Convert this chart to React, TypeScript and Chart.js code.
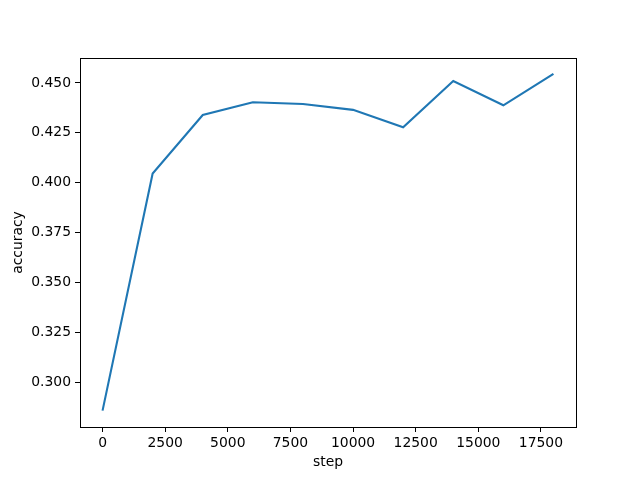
import React, { useEffect, useRef } from "react";
import { Chart, registerables } from "chart.js";

Chart.register(...registerables);

const steps = [0, 2000, 4000, 6000, 8000, 10000, 12000, 14000, 16000, 18000];
const accuracy = [0.2857, 0.4046, 0.4339, 0.4403, 0.4394, 0.4365, 0.4278, 0.4510, 0.4388, 0.4545];
const xTicks = [0, 2500, 5000, 7500, 10000, 12500, 15000, 17500];
const yTicks = [0.3, 0.325, 0.35, 0.375, 0.4, 0.425, 0.45];

const FONT = "'DejaVu Sans', sans-serif";

const boxPlugin = {
  id: "box",
  afterDraw(chart: any) {
    const { ctx, chartArea } = chart;
    ctx.save();
    ctx.strokeStyle = "#000";
    ctx.lineWidth = 1;
    ctx.strokeRect(
      Math.round(chartArea.left) + 0.5,
      Math.round(chartArea.top) + 0.5,
      Math.round(chartArea.right - chartArea.left),
      Math.round(chartArea.bottom - chartArea.top)
    );
    ctx.restore();
  },
};

export default function App() {
  const ref = useRef<HTMLCanvasElement>(null);
  useEffect(() => {
    if (!ref.current) return;
    const chart = new Chart(ref.current, {
      type: "line",
      data: {
        datasets: [
          {
            data: steps.map((s, i) => ({ x: s, y: accuracy[i] })),
            borderColor: "#1f77b4",
            borderWidth: 2.1,
            pointRadius: 0,
            fill: false,
            tension: 0,
          },
        ],
      },
      plugins: [boxPlugin],
      options: {
        responsive: false,
        animation: false,
        layout: { padding: { left: 0, right: 64, top: 58, bottom: 0 } },
        plugins: { legend: { display: false }, tooltip: { enabled: false } },
        scales: {
          x: {
            type: "linear",
            min: -900,
            max: 18900,
            afterBuildTicks: (s: any) => {
              s.ticks = xTicks.map((v) => ({ value: v }));
            },
            afterFit: (s: any) => {
              s.height = 53;
            },
            grid: {
              drawOnChartArea: false,
              drawTicks: true,
              tickLength: 5,
              tickColor: "#000",
              color: "#000",
            },
            border: { display: false },
            ticks: {
              color: "#000",
              padding: 3,
              maxRotation: 0,
              autoSkip: false,
              font: { family: FONT, size: 13.9 },
              callback: (v: any) => String(v),
            },
            title: {
              display: true,
              text: "step",
              color: "#000",
              font: { family: FONT, size: 13.9 },
              padding: { top: 0, bottom: 9.5 },
            },
          },
          y: {
            type: "linear",
            min: 0.2775,
            max: 0.4625,
            afterBuildTicks: (s: any) => {
              s.ticks = yTicks.map((v) => ({ value: v }));
            },
            afterFit: (s: any) => {
              s.width = 80;
            },
            grid: {
              drawOnChartArea: false,
              drawTicks: true,
              tickLength: 5,
              tickColor: "#000",
              color: "#000",
            },
            border: { display: false },
            ticks: {
              color: "#000",
              padding: 4,
              autoSkip: false,
              font: { family: FONT, size: 13.9 },
              callback: (v: any) => Number(v).toFixed(3),
            },
            title: {
              display: true,
              text: "accuracy",
              color: "#000",
              font: { family: FONT, size: 13.9 },
              padding: { top: 10, bottom: 0 },
            },
          },
        },
      },
    } as any);
    return () => chart.destroy();
  }, []);
  return (
    <div style={{ position: "fixed", left: 0, top: 0, width: 640, height: 480, background: "#fff" }}>
      <canvas ref={ref} width={640} height={480} />
    </div>
  );
}
